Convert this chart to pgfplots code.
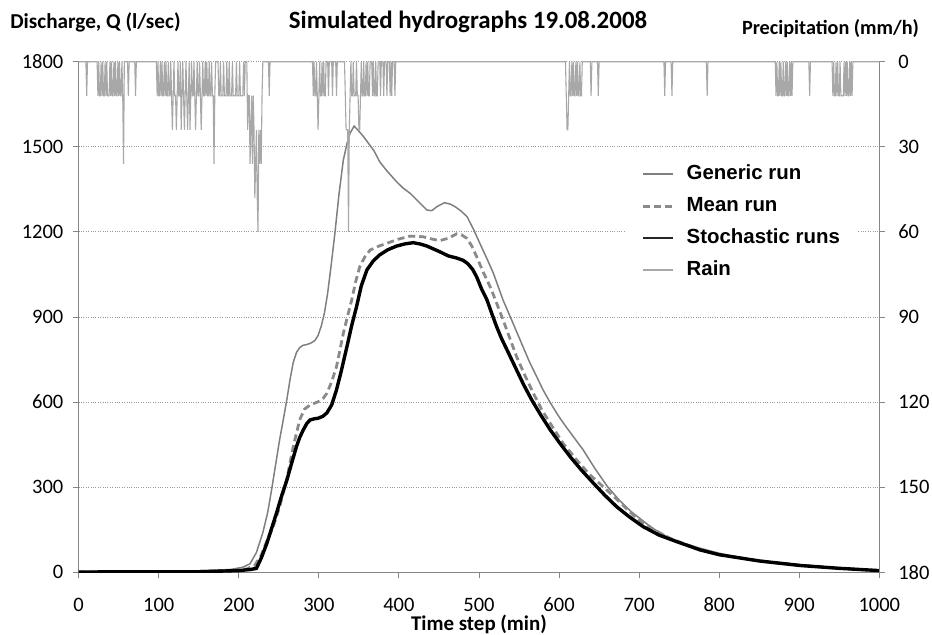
\documentclass[border=0pt]{standalone}
\usepackage{fontspec}
\setmainfont{Carlito}
\newfontfamily\legfont{Liberation Sans}
\usepackage{pgfplots}
\pgfplotsset{compat=1.18}
\definecolor{axgray}{HTML}{868686}
\definecolor{gengray}{HTML}{7F7F7F}
\definecolor{meangray}{HTML}{8A8A8A}
\definecolor{raingray}{HTML}{A8A8A8}
\definecolor{gridgray}{HTML}{9A9A9A}
\pgfplotsset{
  common/.style={
    at={(0,0)}, anchor=south west, scale only axis,
    width=800.6bp, height=510.6bp, xmin=0, xmax=1000,
    tick align=outside, major tick length=6bp,
    tick style={axgray, line width=0.9bp},
    axis line style={axgray, line width=1bp},
    tick label style={font=\fontsize{20.6}{24}\selectfont},
    /pgf/number format/assume math mode=true,
    /pgf/number format/1000 sep={},
    scaled ticks=false,
  }
}
\begin{document}
\begin{tikzpicture}
\path[use as bounding box] (-78.7bp,-62.7bp) rectangle (853.3bp,572.3bp);
\begin{axis}[common,
  ymin=0, ymax=1800,
  xtick={0,100,...,1000}, ytick={0,300,...,1800},
  axis y line*=left, axis x line*=bottom,
  yticklabel style={xshift=-5.8bp},
  xticklabel style={anchor=base, inner sep=0pt, text depth=0pt, yshift=-33bp},
  ymajorgrids, grid style={gridgray, dotted, line width=0.8bp},
  legend image code/.code={\draw[#1] (0bp,0bp) -- (30bp,0bp);},
  legend style={draw=none, fill=white, inner xsep=17bp, inner ysep=2bp,
    at={(axis cs:682,1450)}, anchor=north west,
    font=\legfont\bfseries\fontsize{20.5}{24}\selectfont,
    row sep=10bp,
    nodes={text height=15bp, text depth=5bp, inner sep=1bp},
    /tikz/every odd column/.append style={column sep=11bp}},
  legend cell align=left,
]
\addlegendimage{gengray, line width=1.5bp}
\addlegendentry{Generic run}
\addlegendimage{meangray, line width=2.8bp, dash pattern=on 7bp off 4bp}
\addlegendentry{Mean run}
\addlegendimage{black!85, line width=1.8bp}
\addlegendentry{Stochastic runs}
\addlegendimage{raingray, line width=1.5bp}
\addlegendentry{Rain}

% Generic run
\addplot[gengray, line width=1.5bp, forget plot] table {
0 2
100 3
150 5
190 10
205 18
214 30
222 70
230 140
236 210
241 292
246 380
251 468
256 545
260 609
264 680
268 740
272 775
276 792
280 800
285 803
290 808
295 817
299 835
303 868
307 915
311 985
315 1075
320 1195
325 1330
330.5 1453
335 1510
339 1548
344 1573
350 1555
356 1535
362 1512
369 1485
376 1447
385 1415
397 1377
405 1355
414 1336
425 1305
435 1277
441 1275
448 1290
457 1303
464 1298
470 1289
477 1275
485 1254
493 1210
501 1160
510 1105
518 1054
530 960
539 901
547 848
555 795
563 742
572 690
580 643
589 598
600 548
610 508
620 470
630 432
645 365
660 304
675 255
690 214
700 192
710 170
720 150
734.5 126
750 107
776 85
800 67
830 50
860 38
901 26
950 15
1000 7
};
% Mean run
\addplot[meangray, line width=2.8bp, dash pattern=on 7bp off 4bp, forget plot] table {
0 1
100 2
150 3
190 6
210 12
220 25
228 60
235 110
243 161
251 231
260 330
268 443
276 537
282 575
289 590
299 601
305 612
310 631
316 672
322 725
326 780
330.5 842
336 905
341 960
346 1025
351 1077
357 1110
364 1136
375 1150
385 1160
400 1175
414 1185
430 1183
441 1175
451 1169
462 1178
472 1193
478 1190
485 1177
491 1150
497 1113
505 1060
515 1000
530 890
547 760
558 690
568 631
578 575
589 525
605 455
622 396
638 345
655 302
675 250
697 190
715 155
740 118
776 80
800 62
850 40
901 25
950 14
1000 6
};
% Stochastic runs
\addplot[black, line width=3.4bp, forget plot] table {
0 1
100 2
150 2
200 6
215 10
222 14
228 50
235 102
241 155
247 208
253 265
260 325
266 385
272 443
276 475
280.5 502
285 525
289 537
294 541
299 543
305 550
310 562
316 590
322 643
328 710
335 795
341 870
347 936
353 1010
360 1066
368 1098
376 1119
386 1137
397 1150
408 1158
418 1162
427 1157
435 1150
443 1140
451 1130
462 1115
472 1108
480 1100
486 1088
492 1068
497 1042
503 1000
510 960
516 912
522 866
528 825
535 784
547 713
556 660
566 607
577 555
589 502
601 455
614 407
628 360
643 314
657 272
672 231
688 195
705 161
725 131
747 108
776 79
800 62
850 40
901 24
950 14
1000 6
};
\end{axis}
\node[font=\bfseries\fontsize{25}{29}\selectfont, anchor=base] at (389.3bp,543.8bp) {Simulated hydrographs 19.08.2008};
\node[font=\bfseries\fontsize{21.3}{25}\selectfont, anchor=base] at (16.8bp,544bp) {Discharge, Q (l/sec)};
\node[font=\bfseries\fontsize{20.3}{24}\selectfont, anchor=base] at (751.8bp,537.3bp) {Precipitation (mm/h)};
\node[font=\bfseries\fontsize{21}{25}\selectfont, anchor=base, inner sep=0pt] at (400.3bp,-58.5bp) {Time step (min)};
\begin{axis}[common,
  ymin=0, ymax=180, y dir=reverse,
  axis y line*=right, axis x line=none,
  ytick={0,30,...,180}, clip=false,
  yticklabel style={xshift=9.5bp},
]
\addplot[raingray, line width=1.1bp] table {
0 0
9 0
10 12
11 0
23 0
24 12
25 0
26 12
27 12
28 0
29 12
30 0
31 12
32 12
33 0
34 12
35 0
36 12
37 12
38 12
39 0
40 12
41 0
42 12
43 12
44 0
45 12
46 0
47 12
48 12
49 0
50 12
51 0
52 12
53 12
54 0
55 12
56 36
57 0
61 0
62 12
63 0
70 0
71 12
72 0
97 0
98 12
99 0
100 12
101 12
102 0
103 12
104 0
105 12
106 12
107 0
108 12
109 0
110 12
111 12
112 0
113 12
114 12
115 0
116 12
117 24
118 12
119 0
120 12
121 12
122 24
123 12
124 0
125 12
126 12
127 0
128 24
129 12
130 0
131 12
132 24
133 12
134 0
135 12
136 24
137 12
138 0
139 24
140 12
141 0
142 12
143 12
144 0
145 12
146 24
147 12
148 0
149 12
150 12
151 0
152 12
153 24
154 12
155 0
156 12
157 12
158 0
159 12
160 0
161 12
162 12
163 0
164 12
165 12
166 0
167 12
168 12
169 36
170 12
171 0
174 0
175 12
176 12
177 0
178 12
179 12
180 12
181 0
182 12
183 12
184 12
185 0
186 12
187 12
188 0
189 12
190 12
191 12
192 0
193 12
194 12
195 12
196 12
197 0
198 12
199 12
200 12
201 0
202 12
203 12
204 12
205 12
206 0
207 12
208 0
210 0
211 24
212 12
213 12
214 36
215 24
216 12
217 36
218 12
219 24
220 48
221 36
222 24
223 48
224 60
225 24
226 36
227 24
228 36
229 12
230 0
237 0
238 12
239 0
292 0
293 12
294 0
295 12
296 12
297 0
298 12
299 24
300 12
301 0
302 12
303 12
304 0
305 12
306 0
307 12
308 12
309 0
311 0
312 12
313 0
316 0
317 12
318 0
321 0
322 12
323 0
332 0
333 12
334 24
335 24
336 24
337 60
338 24
339 12
340 0
341 12
342 12
343 0
344 12
345 12
346 12
347 0
348 12
349 12
350 24
351 24
352 12
353 0
354 12
355 12
356 0
357 12
358 12
359 0
360 12
361 0
362 12
363 12
364 0
366 0
367 12
368 0
369 12
370 12
371 0
372 12
373 12
374 0
376 0
377 12
378 0
380 0
381 12
382 0
384 0
385 12
386 0
388 0
389 12
390 0
391 12
392 0
394 0
395 12
396 0
608 0
609 12
610 24
611 24
612 12
613 0
614 12
615 12
616 0
617 12
618 0
619 12
620 12
621 0
622 12
623 0
624 12
625 12
626 0
627 12
628 12
629 0
639 0
640 12
641 0
648 0
649 12
650 0
731 0
732 12
733 0
740 0
741 12
742 0
784 0
785 12
786 0
870 0
871 12
872 0
873 12
874 12
875 0
876 12
877 0
878 12
879 12
880 0
881 12
882 12
883 0
884 12
885 0
886 12
887 12
888 0
889 12
890 0
891 12
892 0
912 0
913 12
914 0
941 0
942 12
943 0
944 12
945 12
946 0
947 12
948 0
949 12
950 12
951 0
952 12
953 12
954 12
955 12
956 0
957 12
958 0
959 12
960 0
961 12
962 12
963 0
964 12
965 0
966 12
967 0
1000 0
};
\end{axis}
\end{tikzpicture}
\end{document}
